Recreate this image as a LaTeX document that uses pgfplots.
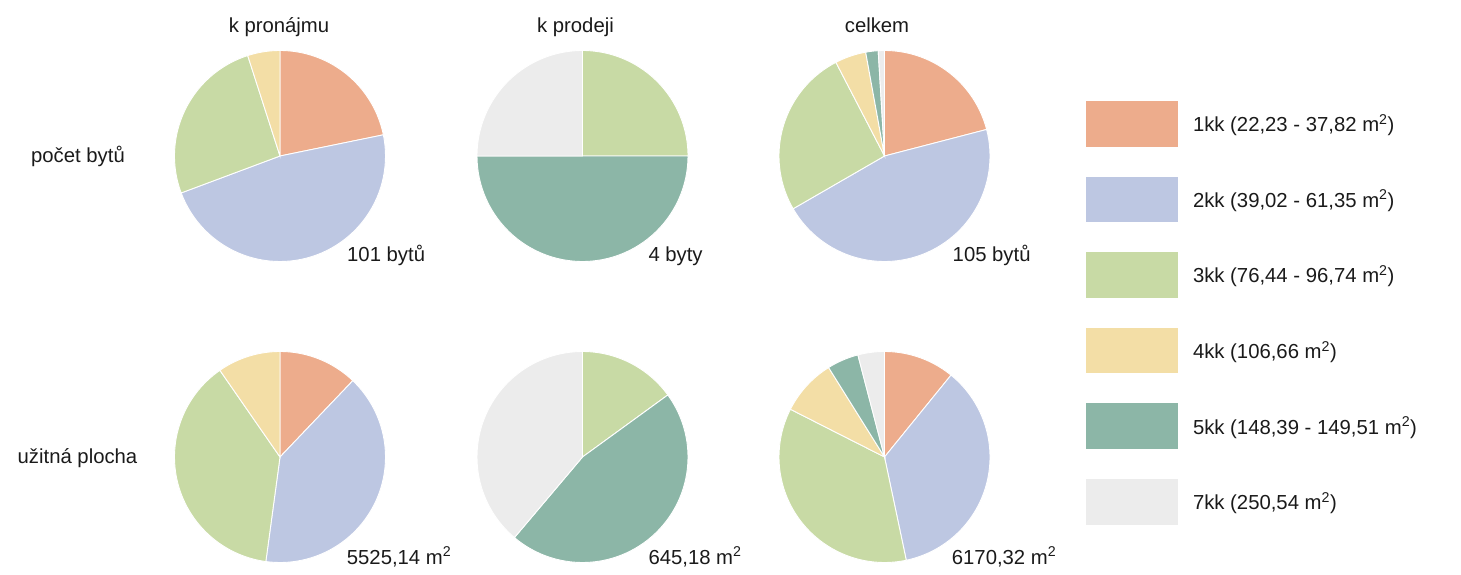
\documentclass[border=0pt]{standalone}
\usepackage{fontspec}
\setmainfont{Liberation Sans}
\usepackage{pgfplots}
\pgfplotsset{compat=1.18}
\definecolor{c1}{HTML}{EDAC8C}
\definecolor{c2}{HTML}{BDC7E2}
\definecolor{c3}{HTML}{C8DAA5}
\definecolor{c4}{HTML}{F3DEA6}
\definecolor{c5}{HTML}{8CB6A7}
\definecolor{c7}{HTML}{ECECEC}
\definecolor{txt}{HTML}{1A1A1A}
\def\R{105.5}
% \slice{cx}{cy}{cumulative start}{value}{total}{colour}
\newcommand{\slice}[6]{%
  \addplot[draw=white, line width=0.9pt, fill=#6, forget plot,
    domain=360*(#3)/(#5):360*(#3+#4)/(#5), samples=60, variable=\t]
    ({#1+\R*sin(\t)},{#2-\R*cos(\t)}) -- (axis cs:#1,#2) -- cycle;}
\newcommand{\lbl}{\fontsize{20.3}{24}\selectfont}
\begin{document}
\begin{tikzpicture}
\useasboundingbox (0,0) rectangle (1461pt,575pt);
\begin{axis}[
  x=1pt, y=1pt, xmin=0, xmax=1461, ymin=0, ymax=575, y dir=reverse,
  hide axis, clip=false,
  legend style={at={(axis cs:1086,101)}, anchor=north west, draw=none, fill=none,
    font=\lbl, text=txt, row sep=30pt, inner sep=0pt, outer sep=0pt,
    nodes={inner sep=0pt}},
  legend cell align=left,
  /tikz/every odd column/.append style={column sep=15.5pt},
  legend image code/.code={\fill (0pt,-22.8pt) rectangle (91.5pt,22.8pt);},
]
% ---- počet bytů: k pronájmu (101)
\slice{280}{156}{0}{22}{101}{c1}
\slice{280}{156}{22}{48}{101}{c2}
\slice{280}{156}{22+48}{26}{101}{c3}
\slice{280}{156}{22+48+26}{5}{101}{c4}
% ---- počet bytů: k prodeji (4)
\slice{582.5}{156}{0}{1}{4}{c3}
\slice{582.5}{156}{1}{2}{4}{c5}
\slice{582.5}{156}{1+2}{1}{4}{c7}
% ---- počet bytů: celkem (105)
\slice{884.5}{156}{0}{22}{105}{c1}
\slice{884.5}{156}{22}{48}{105}{c2}
\slice{884.5}{156}{22+48}{27}{105}{c3}
\slice{884.5}{156}{22+48+27}{5}{105}{c4}
\slice{884.5}{156}{22+48+27+5}{2}{105}{c5}
\slice{884.5}{156}{22+48+27+5+2}{1}{105}{c7}
% ---- užitná plocha: k pronájmu (5525.14)
\slice{280}{457}{0}{670}{5525.14}{c1}
\slice{280}{457}{670}{2211}{5525.14}{c2}
\slice{280}{457}{670+2211}{2110.84}{5525.14}{c3}
\slice{280}{457}{670+2211+2110.84}{533.30}{5525.14}{c4}
% ---- užitná plocha: k prodeji (645.18)
\slice{582.5}{457}{0}{96.74}{645.18}{c3}
\slice{582.5}{457}{96.74}{297.90}{645.18}{c5}
\slice{582.5}{457}{96.74+297.90}{250.54}{645.18}{c7}
% ---- užitná plocha: celkem (6170.32)
\slice{884.5}{457}{0}{670}{6170.32}{c1}
\slice{884.5}{457}{670}{2211}{6170.32}{c2}
\slice{884.5}{457}{670+2211}{2207.58}{6170.32}{c3}
\slice{884.5}{457}{670+2211+2207.58}{533.30}{6170.32}{c4}
\slice{884.5}{457}{670+2211+2207.58+533.30}{297.90}{6170.32}{c5}
\slice{884.5}{457}{670+2211+2207.58+533.30+297.90}{250.54}{6170.32}{c7}
% ---- legend
\addlegendimage{fill=c1, draw=none}\addlegendentry{1kk (22,23 - 37,82 m\textsuperscript{2})}
\addlegendimage{fill=c2, draw=none}\addlegendentry{2kk (39,02 - 61,35 m\textsuperscript{2})}
\addlegendimage{fill=c3, draw=none}\addlegendentry{3kk (76,44 - 96,74 m\textsuperscript{2})}
\addlegendimage{fill=c4, draw=none}\addlegendentry{4kk (106,66 m\textsuperscript{2})}
\addlegendimage{fill=c5, draw=none}\addlegendentry{5kk (148,39 - 149,51 m\textsuperscript{2})}
\addlegendimage{fill=c7, draw=none}\addlegendentry{7kk (250,54 m\textsuperscript{2})}
% ---- texts
\begin{scope}[every node/.style={font=\lbl, text=txt, inner sep=0pt}]
\node[anchor=base] at (axis cs:279,33) {k pronájmu};
\node[anchor=base] at (axis cs:575.5,33) {k prodeji};
\node[anchor=base] at (axis cs:877,33) {celkem};
\node[anchor=base] at (axis cs:78,162.5) {počet bytů};
\node[anchor=base] at (axis cs:77.5,463) {užitná plocha};
\node[anchor=base west] at (axis cs:347,261) {101 bytů};
\node[anchor=base west] at (axis cs:648.3,261) {4 byty};
\node[anchor=base west] at (axis cs:952.5,261) {105 bytů};
\node[anchor=base west] at (axis cs:346.7,564) {5525,14 m\textsuperscript{2}};
\node[anchor=base west] at (axis cs:648.3,564) {645,18 m\textsuperscript{2}};
\node[anchor=base west] at (axis cs:951.7,564) {6170,32 m\textsuperscript{2}};
\end{scope}
\end{axis}
\end{tikzpicture}
\end{document}
